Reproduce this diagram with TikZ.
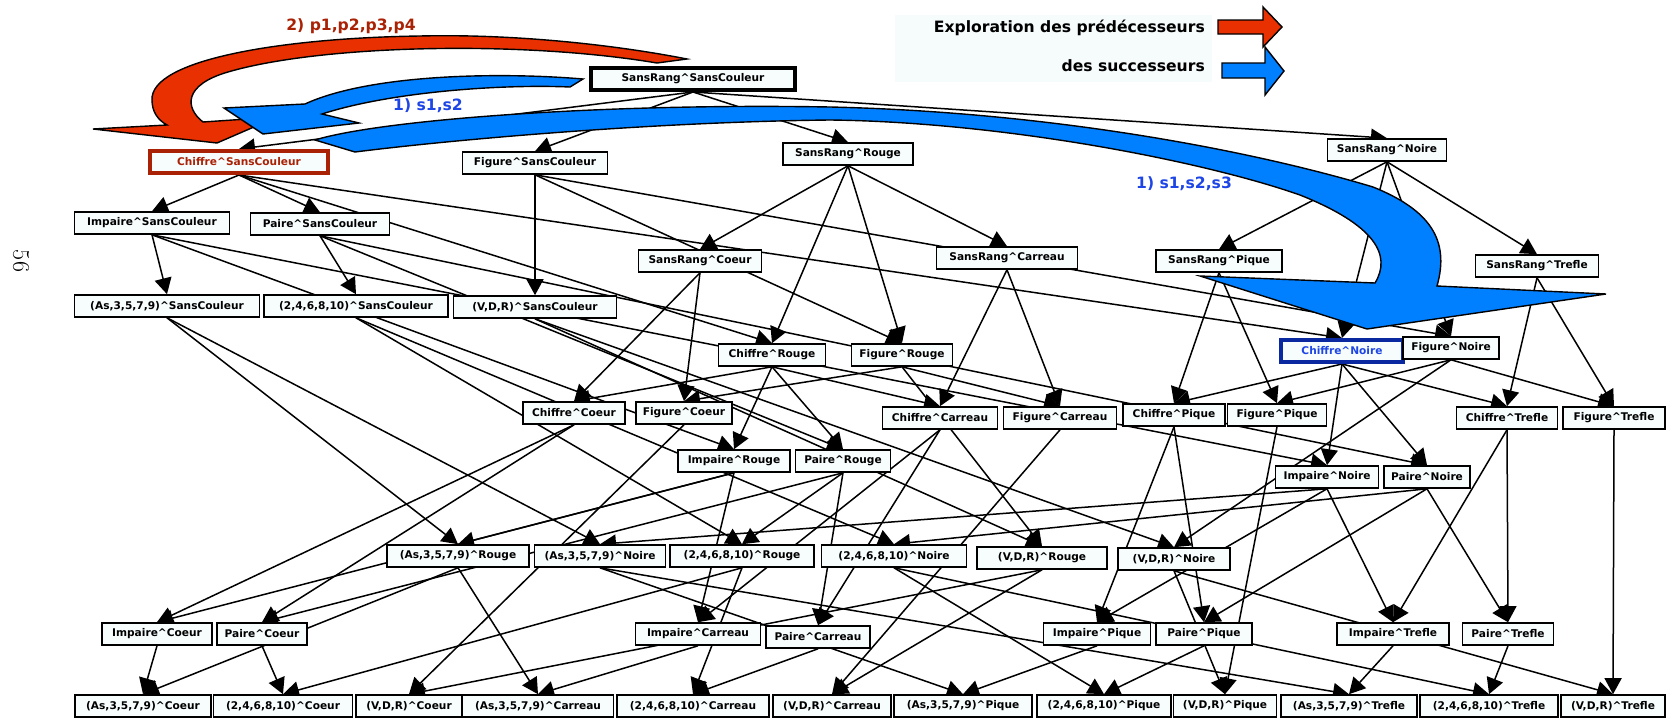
\documentclass[tikz,border=0pt]{standalone}
\usepackage{fontspec}
\newfontfamily\dv{DejaVu Sans}
\usetikzlibrary{arrows.meta}
\definecolor{nodefill}{RGB}{247,253,253}
\definecolor{redA}{RGB}{232,48,0}
\definecolor{blueA}{RGB}{0,128,255}
\definecolor{redT}{RGB}{170,34,6}
\definecolor{blueT}{RGB}{30,70,230}
\definecolor{blueB}{RGB}{10,40,160}
\definecolor{legbg}{RGB}{246,251,251}
\newcommand\crt{\textasciicircum}
\pgfdeclarelayer{bg}
\pgfsetlayers{bg,main}
\begin{document}
\begin{tikzpicture}[x=1pt,y=-1pt,
 nd/.style={draw=black,line width=1.6pt,fill=nodefill,minimum height=22pt,inner sep=0pt,font=\dv\bfseries\fontsize{10.6}{12}\selectfont},
 edge/.style={line width=1.5pt,-{Triangle[length=16pt,width=17pt]}},
 blk/.style={draw=black,line width=1.4pt,line join=miter},
 lab/.style={font=\dv\bfseries\fontsize{15.6}{18}\selectfont,inner sep=0pt}]
\useasboundingbox (0,0) rectangle (1670,720);

% legend
\fill[legbg] (895,15) rectangle (1212,82);
\node[lab,anchor=east] (l1) at (1205,28) {Exploration des prédécesseurs};
\node[lab,anchor=east] (l2) at (1205,66) {des successeurs};
\draw[blk,fill=redA] (1218,20) -- (1263,20) -- (1263,7) -- (1282,27) -- (1263,47) -- (1263,34) -- (1218,34) -- cycle;
\draw[blk,fill=blueA] (1222,63) -- (1265,63) -- (1265,47) -- (1284,71) -- (1265,95) -- (1265,78) -- (1222,78) -- cycle;

% page number
\node[rotate=-90,font=\fontsize{24}{24}\selectfont,inner sep=0pt] (pg) at (21,261) {56};

% nodes
\node[nd,minimum width=204pt,line width=4pt] (SRSC) at (693,79) {SansRang\crt SansCouleur};
\node[nd,minimum width=178pt,line width=4pt,draw=redT,text=redT] (ChSC) at (239,162) {Chiffre\crt SansCouleur};
\node[nd,minimum width=145pt] (FiSC) at (535,163) {Figure\crt SansCouleur};
\node[nd,minimum width=130pt] (SRRo) at (848,154) {SansRang\crt Rouge};
\node[nd,minimum width=119pt] (SRNo) at (1387,150) {SansRang\crt Noire};
\node[nd,minimum width=155pt] (ImSC) at (152,223) {Impaire\crt SansCouleur};
\node[nd,minimum width=139pt] (PaSC) at (320,224) {Paire\crt SansCouleur};
\node[nd,minimum width=123pt] (SRCo) at (700,261) {SansRang\crt Coeur};
\node[nd,minimum width=141pt] (SRCa) at (1007,258) {SansRang\crt Carreau};
\node[nd,minimum width=126pt] (SRPi) at (1219,261) {SansRang\crt Pique};
\node[nd,minimum width=123pt] (SRTr) at (1537,266) {SansRang\crt Trefle};
\node[nd,minimum width=185pt] (AsSC) at (167,306) {(As,3,5,7,9)\crt SansCouleur};
\node[nd,minimum width=184pt] (DeSC) at (356,306) {(2,4,6,8,10)\crt SansCouleur};
\node[nd,minimum width=163pt] (VDRSC) at (535,307) {(V,D,R)\crt SansCouleur};
\node[nd,minimum width=107pt] (ChRo) at (772,355) {Chiffre\crt Rouge};
\node[nd,minimum width=101pt] (FiRo) at (902,355) {Figure\crt Rouge};
\node[nd,minimum width=122pt,line width=4pt,draw=blueB,text=blueT] (ChNo) at (1342,351) {Chiffre\crt Noire};
\node[nd,minimum width=96pt] (FiNo) at (1451,348) {Figure\crt Noire};
\node[nd,minimum width=102pt] (ChCo) at (574,413) {Chiffre\crt Coeur};
\node[nd,minimum width=96pt] (FiCo) at (684,413) {Figure\crt Coeur};
\node[nd,minimum width=115pt] (ChCa) at (940,418) {Chiffre\crt Carreau};
\node[nd,minimum width=113pt] (FiCa) at (1060,418) {Figure\crt Carreau};
\node[nd,minimum width=102pt] (ChPi) at (1174,415) {Chiffre\crt Pique};
\node[nd,minimum width=99pt] (FiPi) at (1277,415) {Figure\crt Pique};
\node[nd,minimum width=101pt] (ChTr) at (1507,418) {Chiffre\crt Trefle};
\node[nd,minimum width=102pt] (FiTr) at (1614,418) {Figure\crt Trefle};
\node[nd,minimum width=112pt] (ImRo) at (734,461) {Impaire\crt Rouge};
\node[nd,minimum width=95pt] (PaRo) at (843,461) {Paire\crt Rouge};
\node[nd,minimum width=103pt] (ImNo) at (1327,477) {Impaire\crt Noire};
\node[nd,minimum width=86pt] (PaNo) at (1427,477) {Paire\crt Noire};
\node[nd,minimum width=142pt] (AsRo) at (458,556) {(As,3,5,7,9)\crt Rouge};
\node[nd,minimum width=131pt] (AsNo) at (600,556) {(As,3,5,7,9)\crt Noire};
\node[nd,minimum width=144pt] (DeRo) at (742,556) {(2,4,6,8,10)\crt Rouge};
\node[nd,minimum width=145pt] (DeNo) at (894,556) {(2,4,6,8,10)\crt Noire};
\node[nd,minimum width=130pt] (VDRRo) at (1042,558) {(V,D,R)\crt Rouge};
\node[nd,minimum width=112pt] (VDRNo) at (1174,559) {(V,D,R)\crt Noire};
\node[nd,minimum width=110pt] (ImCo) at (157,634) {Impaire\crt Coeur};
\node[nd,minimum width=90pt] (PaCo) at (262,634) {Paire\crt Coeur};
\node[nd,minimum width=125pt] (ImCa) at (698,634) {Impaire\crt Carreau};
\node[nd,minimum width=104pt] (PaCa) at (818,637) {Paire\crt Carreau};
\node[nd,minimum width=107pt] (ImPi) at (1097,634) {Impaire\crt Pique};
\node[nd,minimum width=96pt] (PaPi) at (1204,634) {Paire\crt Pique};
\node[nd,minimum width=112pt] (ImTr) at (1393,634) {Impaire\crt Trefle};
\node[nd,minimum width=91pt] (PaTr) at (1508,634) {Paire\crt Trefle};
\node[nd,minimum width=136pt] (AsCo) at (143,706) {(As,3,5,7,9)\crt Coeur};
\node[nd,minimum width=139pt] (DeCo) at (283,706) {(2,4,6,8,10)\crt Coeur};
\node[nd,minimum width=106pt] (VDRCo) at (409,706) {(V,D,R)\crt Coeur};
\node[nd,minimum width=151pt] (AsCa) at (538,706) {(As,3,5,7,9)\crt Carreau};
\node[nd,minimum width=152pt] (DeCa) at (693,706) {(2,4,6,8,10)\crt Carreau};
\node[nd,minimum width=118pt] (VDRCa) at (832,706) {(V,D,R)\crt Carreau};
\node[nd,minimum width=138pt] (AsPi) at (963,706) {(As,3,5,7,9)\crt Pique};
\node[nd,minimum width=134pt] (DePi) at (1104,706) {(2,4,6,8,10)\crt Pique};
\node[nd,minimum width=103pt] (VDRPi) at (1225,706) {(V,D,R)\crt Pique};
\node[nd,minimum width=136pt] (AsTr) at (1349,706) {(As,3,5,7,9)\crt Trefle};
\node[nd,minimum width=138pt] (DeTr) at (1489,706) {(2,4,6,8,10)\crt Trefle};
\node[nd,minimum width=104pt] (VDRTr) at (1613,706) {(V,D,R)\crt Trefle};

% edges
\begin{pgfonlayer}{bg}
\foreach \c in {SC,Ro,No,Co,Ca,Pi,Tr}{
  \foreach \a/\b in {SR/Ch,SR/Fi,Ch/Im,Ch/Pa,Im/As,Pa/De,Fi/VDR}{
    \draw[edge] (\a\c.south) -- (\b\c.north);
  }
}
\foreach \r in {SR,Ch,Fi,Im,Pa,As,De,VDR}{
  \foreach \a/\b in {SC/Ro,SC/No,Ro/Co,Ro/Ca,No/Pi,No/Tr}{
    \draw[edge] (\r\a.south) -- (\r\b.north);
  }
}
\end{pgfonlayer}

% exploration arrows
\draw[blk,fill=redA] (687,59) .. controls (600,42) and (500,34) .. (420,36)
  .. controls (280,38) and (150,60) .. (152,100)
  .. controls (152,112) and (158,120) .. (167,125)
  -- (93,129) -- (217,143) -- (277,117) -- (203,122)
  .. controls (185,108) and (183,85) .. (228,72)
  .. controls (320,45) and (520,40) .. (657,63) -- cycle;
\draw[blk,fill=blueA] (583,79) .. controls (500,72) and (370,74) .. (305,104)
  -- (224,108) -- (263,134) -- (359,123) -- (322,114)
  .. controls (390,92) and (500,84) .. (570,87) -- cycle;
\draw[blk,fill=blueA] (315,140) .. controls (380,120) and (600,103) .. (830,107)
  .. controls (1050,112) and (1250,150) .. (1373,187)
  .. controls (1430,210) and (1450,240) .. (1437,286)
  -- (1606,294) -- (1367,329) -- (1200,276) -- (1375,283)
  .. controls (1392,255) and (1375,225) .. (1300,195)
  .. controls (1200,160) and (1000,122) .. (830,120)
  .. controls (650,122) and (450,140) .. (355,152) -- cycle;

\node[lab,text=redT] (lp) at (351,26) {2) p1,p2,p3,p4};
\node[lab,text=blueT] (ls1) at (428,106) {1) s1,s2};
\node[lab,text=blueT] (ls2) at (1184,184) {1) s1,s2,s3};
\end{tikzpicture}
\end{document}
